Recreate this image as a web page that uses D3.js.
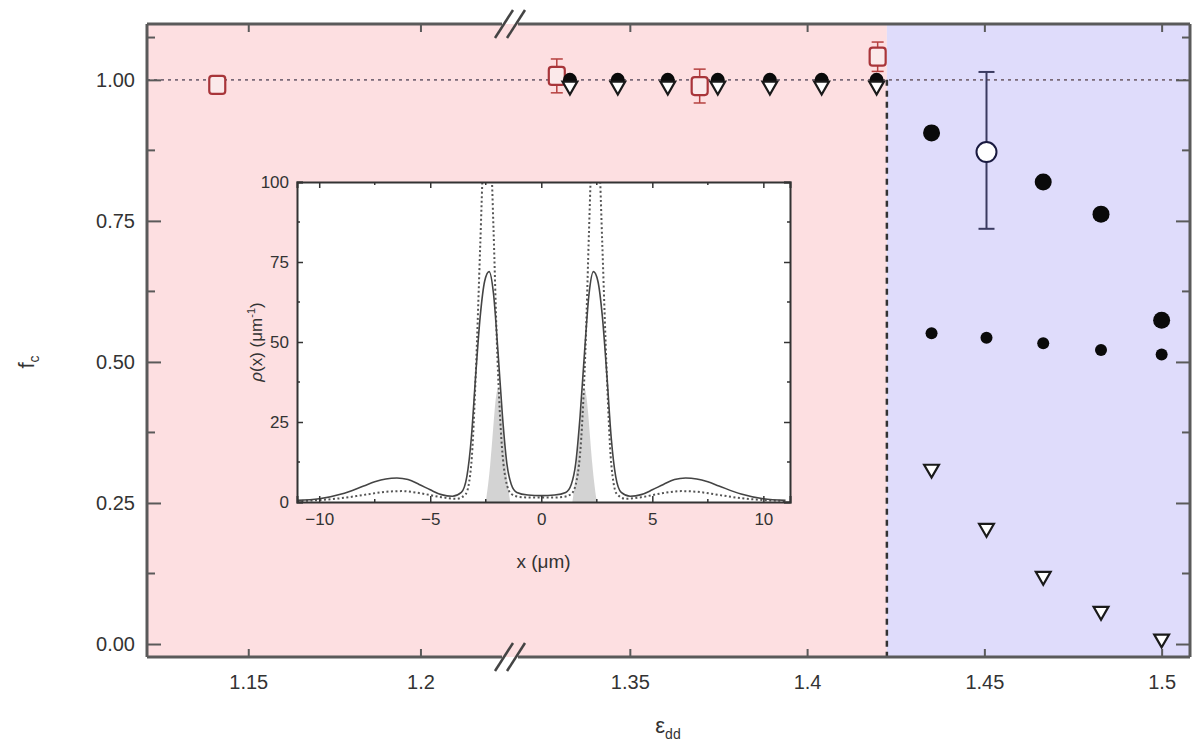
<!DOCTYPE html>
<html><head><meta charset="utf-8">
<script src="https://cdn.jsdelivr.net/npm/d3@7"></script>
<style>body{margin:0;background:#fff;} text{font-family:"Liberation Sans",Arial,sans-serif;fill:#333;}</style>
</head><body>
<svg id="c" width="1196" height="750"></svg>
<script>
// ---------- data ----------
const xTicksLeft = [1.15, 1.2];
const xTicksRight = [1.35, 1.4, 1.45, 1.5];
const yTicks = [0, 0.25, 0.5, 0.75, 1.0];
const transitionEps = 1.4225;

const bigFilledEps = [1.3331, 1.3466, 1.3607, 1.3748, 1.3895, 1.4041, 1.4196, 1.4351, 1.4666, 1.4829, 1.5];
const bigFilledF   = [1.0, 1.0, 1.0, 1.0, 1.0, 1.0, 1.0, 0.906, 0.819, 0.762, 0.574];

const smallFilledEps = [1.4351, 1.4506, 1.4666, 1.4829, 1.5];
const smallFilledF   = [0.551, 0.543, 0.533, 0.521, 0.513];

const triangleEps = [1.3331, 1.3466, 1.3607, 1.3748, 1.3895, 1.4041, 1.4196, 1.4351, 1.4506, 1.4666, 1.4829, 1.5];
const triangleF   = [0.991, 0.991, 0.991, 0.991, 0.991, 0.991, 0.991, 0.312, 0.207, 0.122, 0.060, 0.011];

const openCircleEps = [1.4506];
const openCircleF   = [0.872];
const openCircleLo  = [0.736];
const openCircleHi  = [1.014];

const squareEps = [1.141, 1.3294, 1.3697, 1.4199];
const squareF   = [0.991, 1.007, 0.989, 1.041];
const squareErr = [0.0, 0.030, 0.030, 0.026];

// inset
const insetXTicks = [-10, -5, 0, 5, 10];
const insetYTicks = [0, 25, 50, 75, 100];
const solidX = [-11, -10, -9, -8, -7.5, -7, -6.5, -6, -5.5, -5, -4.5, -4, -3.6, -3.35, -3.15, -2.95, -2.75, -2.55, -2.35, -2.15, -1.95, -1.75, -1.55, -1.35, -1.1, -0.6, 0,
                0.6, 1.1, 1.35, 1.55, 1.75, 1.95, 2.15, 2.35, 2.55, 2.75, 2.95, 3.15, 3.35, 3.6, 4, 4.5, 5, 5.5, 6, 6.5, 7, 7.5, 8, 9, 10, 11];
const solidY = [0.5, 1, 2.5, 5, 6.3, 7.2, 7.5, 7, 5.5, 3.8, 2.3, 1.8, 3, 8, 20, 40, 58, 69, 72, 65, 47, 27, 12, 5.5, 3, 2.2, 2,
                2.2, 3, 5.5, 12, 27, 47, 65, 72, 69, 58, 40, 20, 8, 3, 1.8, 2.3, 3.8, 5.5, 7, 7.5, 7.2, 6.3, 5, 2.5, 1, 0.5];
const dotX = [-11, -10, -9, -8, -7, -6.3, -5.5, -4.5, -3.8, -3.4, -3.15, -2.95, -2.75, -2.6, -2.45, -2.3, -2.15, -2.0, -1.8, -1.6, -1.35, -1.0, -0.5, 0,
              0.5, 1.0, 1.35, 1.6, 1.8, 2.0, 2.15, 2.3, 2.45, 2.6, 2.75, 2.95, 3.15, 3.4, 3.8, 4.5, 5.5, 6.3, 7, 8, 9, 10, 11];
const dotY = [0.3, 0.6, 1.2, 2.2, 3.2, 3.4, 2.8, 1.5, 1.0, 2.5, 12, 40, 80, 110, 125, 115, 85, 50, 20, 7, 2.5, 1.6, 1.4, 1.4,
              1.4, 1.6, 2.5, 7, 20, 50, 85, 115, 125, 110, 80, 40, 12, 2.5, 1.0, 1.5, 2.8, 3.4, 3.2, 2.2, 1.2, 0.6, 0.3];
const grayX = [-2.5, -2.3, -2.1, -1.95, -1.8, -1.6, -1.4, 1.4, 1.6, 1.8, 1.95, 2.1, 2.3, 2.5];
const grayY = [0, 10, 30, 38, 30, 10, 0, 0, 10, 30, 38, 30, 10, 0];

// ---------- layout ----------
const svg = d3.select("#c");
const L = 147, R = 1190, T = 24, B = 657, BRK = 510;
const axisColor = "#5a5a5a";
const x1 = d3.scaleLinear().domain([1.1206, 1.226]).range([L, BRK]);
const x2 = d3.scaleLinear().domain([1.3162, 1.508]).range([BRK, R]);
const xPos = v => v < 1.27 ? x1(v) : x2(v);
const y = d3.scaleLinear().domain([-0.023, 1.099]).range([B, T]);

// backgrounds
const xt = x2(transitionEps);
svg.append("rect").attr("x", L).attr("y", T).attr("width", xt - L).attr("height", B - T).attr("fill", "#fddfe1");
svg.append("rect").attr("x", xt).attr("y", T).attr("width", R - xt).attr("height", B - T).attr("fill", "#dfdcfb");

// dashed line at 1.0
svg.append("line").attr("x1", L).attr("x2", R).attr("y1", y(1)).attr("y2", y(1))
  .attr("stroke", "#7a6a78").attr("stroke-width", 1.6).attr("stroke-dasharray", "3,4");
// vertical dashed transition line
svg.append("line").attr("x1", xt).attr("x2", xt).attr("y1", y(1)).attr("y2", B)
  .attr("stroke", "#333").attr("stroke-width", 2.5).attr("stroke-dasharray", "6,5");

// ---------- inset ----------
const IL = 297, IR = 790, IT = 182, IB = 502;
const ix = d3.scaleLinear().domain([-11, 11.2]).range([IL, IR]);
const iy = d3.scaleLinear().domain([0, 100]).range([IB, IT]);
const inset = svg.append("g");
inset.append("rect").attr("x", IL).attr("y", IT).attr("width", IR - IL).attr("height", IB - IT).attr("fill", "#fff");
const clip = svg.append("clipPath").attr("id", "ic");
clip.append("rect").attr("x", IL).attr("y", IT).attr("width", IR - IL).attr("height", IB - IT);
const ig = inset.append("g").attr("clip-path", "url(#ic)");
const grayPts = grayX.map((d, i) => [d, grayY[i]]);
ig.append("path").datum(grayPts.slice(0, 7)).attr("fill", "#c8c8c8").attr("opacity", 0.8)
  .attr("d", d3.area().x(d => ix(d[0])).y0(iy(0)).y1(d => iy(d[1])).curve(d3.curveBasis));
ig.append("path").datum(grayPts.slice(7)).attr("fill", "#c8c8c8").attr("opacity", 0.8)
  .attr("d", d3.area().x(d => ix(d[0])).y0(iy(0)).y1(d => iy(d[1])).curve(d3.curveBasis));
ig.append("path").datum(dotX.map((d, i) => [d, dotY[i]])).attr("fill", "none")
  .attr("stroke", "#555").attr("stroke-width", 2).attr("stroke-dasharray", "2,2.5")
  .attr("d", d3.line().x(d => ix(d[0])).y(d => iy(d[1])).curve(d3.curveMonotoneX));
ig.append("path").datum(solidX.map((d, i) => [d, solidY[i]])).attr("fill", "none")
  .attr("stroke", "#444").attr("stroke-width", 1.6)
  .attr("d", d3.line().x(d => ix(d[0])).y(d => iy(d[1])).curve(d3.curveMonotoneX));

// inset axes
const iax = inset.append("g").attr("transform", `translate(0,${IB})`)
  .call(d3.axisBottom(ix).tickValues(insetXTicks).tickSize(-6).tickPadding(11).tickFormat(d3.format("d")));
const iaxT = inset.append("g").attr("transform", `translate(0,${IT})`)
  .call(d3.axisTop(ix).tickValues(insetXTicks).tickSize(-6).tickFormat(""));
const iay = inset.append("g").attr("transform", `translate(${IL},0)`)
  .call(d3.axisLeft(iy).tickValues(insetYTicks).tickSize(-6).tickPadding(8));
const iayR = inset.append("g").attr("transform", `translate(${IR},0)`)
  .call(d3.axisRight(iy).tickValues(insetYTicks).tickSize(-6).tickFormat(""));
// minor ticks
const insetXMinor = [-7.5, -2.5, 2.5, 7.5];
const insetYMinor = [12.5, 37.5, 62.5, 87.5];
[[IB, -3], [IT, 3]].forEach(([yy, s]) => inset.append("g").selectAll("line").data(insetXMinor).join("line")
  .attr("x1", d => ix(d)).attr("x2", d => ix(d)).attr("y1", yy).attr("y2", yy + s).attr("stroke", "#333").attr("stroke-width", 1.5));
[[IL, 3], [IR, -3]].forEach(([xx, s]) => inset.append("g").selectAll("line").data(insetYMinor).join("line")
  .attr("y1", d => iy(d)).attr("y2", d => iy(d)).attr("x1", xx).attr("x2", xx + s).attr("stroke", "#333").attr("stroke-width", 1.5));
[iax, iaxT, iay, iayR].forEach(g => {
  g.select(".domain").attr("stroke", "#333").attr("stroke-width", 2);
  g.selectAll(".tick line").attr("stroke", "#333").attr("stroke-width", 1.5);
  g.selectAll("text").style("font-size", "17px").attr("fill", "#333");
});
inset.append("text").attr("x", (IL + IR) / 2).attr("y", 568).attr("text-anchor", "middle").style("font-size", "19px").text("x (μm)");
inset.append("text").attr("transform", `translate(262,${(IT + IB) / 2}) rotate(-90)`).attr("text-anchor", "middle")
  .style("font-size", "17px").html('<tspan font-style="italic">ρ</tspan>(x) (μm<tspan dy="-7" font-size="11px">-1</tspan><tspan dy="7">)</tspan>');

// ---------- main markers ----------
const gm = svg.append("g");
// red squares with error bars
squareEps.forEach((e, i) => {
  const cx = xPos(e), cy = y(squareF[i]);
  if (squareErr[i] > 0) {
    const yt = y(squareF[i] + squareErr[i]), yb = y(squareF[i] - squareErr[i]);
    gm.append("line").attr("x1", cx).attr("x2", cx).attr("y1", yt).attr("y2", yb).attr("stroke", "#b5403f").attr("stroke-width", 1.5);
    [yt, yb].forEach(yy => gm.append("line").attr("x1", cx - 6).attr("x2", cx + 6).attr("y1", yy).attr("y2", yy).attr("stroke", "#b5403f").attr("stroke-width", 1.5));
  }
  gm.append("rect").attr("x", cx - 8).attr("y", cy - 9).attr("width", 16).attr("height", 18).attr("rx", 3)
    .attr("fill", "#fbe9ea").attr("stroke", "#a8353a").attr("stroke-width", 2.2);
});
// open circle error bar
openCircleEps.forEach((e, i) => {
  const cx = xPos(e);
  const yt = y(openCircleHi[i]), yb = y(openCircleLo[i]);
  gm.append("line").attr("x1", cx).attr("x2", cx).attr("y1", yt).attr("y2", yb).attr("stroke", "#3a3a60").attr("stroke-width", 2);
  [yt, yb].forEach(yy => gm.append("line").attr("x1", cx - 8).attr("x2", cx + 8).attr("y1", yy).attr("y2", yy).attr("stroke", "#3a3a60").attr("stroke-width", 2));
});
// big filled circles
gm.selectAll("circle.big").data(bigFilledEps.map((e, i) => [e, bigFilledF[i]])).join("circle")
  .attr("cx", d => xPos(d[0])).attr("cy", d => y(d[1])).attr("r", d => d[1] > 0.99 ? 7 : 8.5).attr("fill", "#0a0a0a");
// small filled circles
gm.selectAll("circle.small").data(smallFilledEps.map((e, i) => [e, smallFilledF[i]])).join("circle")
  .attr("cx", d => xPos(d[0])).attr("cy", d => y(d[1])).attr("r", 6).attr("fill", "#0a0a0a");
// open triangles (down)
const tri = d3.symbol().type(d3.symbolTriangle).size(95);
gm.selectAll("path.tri").data(triangleEps.map((e, i) => [e, triangleF[i]])).join("path")
  .attr("d", tri).attr("transform", d => `translate(${xPos(d[0])},${y(d[1]) + 1}) rotate(180)`)
  .attr("fill", "#fff").attr("stroke", "#1a1a1a").attr("stroke-width", 2.2);
// open circle
gm.selectAll("circle.open").data(openCircleEps.map((e, i) => [e, openCircleF[i]])).join("circle")
  .attr("cx", d => xPos(d[0])).attr("cy", d => y(d[1])).attr("r", 10).attr("fill", "#fff").attr("stroke", "#1a1a40").attr("stroke-width", 2);

// ---------- main axes ----------
const ax = svg.append("g");
function styleAxis(g) {
  g.select(".domain").remove();
  g.selectAll(".tick line").attr("stroke", axisColor).attr("stroke-width", 2);
  g.selectAll("text").style("font-size", "20px").attr("fill", "#333");
}
styleAxis(ax.append("g").attr("transform", `translate(0,${B})`).call(d3.axisBottom(x1).tickValues(xTicksLeft).tickSize(-8).tickPadding(18).tickFormat(d3.format("~g"))));
styleAxis(ax.append("g").attr("transform", `translate(0,${B})`).call(d3.axisBottom(x2).tickValues(xTicksRight).tickSize(-8).tickPadding(18).tickFormat(d3.format("~g"))));
styleAxis(ax.append("g").attr("transform", `translate(0,${T})`).call(d3.axisTop(x1).tickValues(xTicksLeft).tickSize(-8).tickFormat("")));
styleAxis(ax.append("g").attr("transform", `translate(0,${T})`).call(d3.axisTop(x2).tickValues(xTicksRight).tickSize(-8).tickFormat("")));
styleAxis(ax.append("g").attr("transform", `translate(${L},0)`).call(d3.axisLeft(y).tickValues(yTicks).tickSize(-14).tickPadding(12).tickFormat(d3.format(".2f"))));
styleAxis(ax.append("g").attr("transform", `translate(${R},0)`).call(d3.axisRight(y).tickValues(yTicks).tickSize(-14).tickFormat("")));
const yMinor = [0.125, 0.375, 0.625, 0.875, 1.075];
[[L, 8], [R, -8]].forEach(([xx, s]) => ax.append("g").selectAll("line").data(yMinor).join("line")
  .attr("x1", xx).attr("x2", xx + s).attr("y1", d => y(d)).attr("y2", d => y(d)).attr("stroke", axisColor).attr("stroke-width", 2));
// frame with break gaps
const frame = ax.append("g").attr("stroke", axisColor).attr("stroke-width", 3).attr("fill", "none");
frame.append("line").attr("x1", L).attr("x2", L).attr("y1", T).attr("y2", B);
frame.append("line").attr("x1", R).attr("x2", R).attr("y1", T).attr("y2", B);
[T, B].forEach(yy => {
  frame.append("line").attr("x1", L).attr("x2", BRK - 8).attr("y1", yy).attr("y2", yy);
  frame.append("line").attr("x1", BRK + 8).attr("x2", R).attr("y1", yy).attr("y2", yy);
  [-6, 6].forEach(dx => frame.append("line").attr("x1", BRK + dx - 9).attr("x2", BRK + dx + 9)
    .attr("y1", yy + 14).attr("y2", yy - 14).attr("stroke", "#444").attr("stroke-width", 2.5));
});

// axis titles
svg.append("text").attr("transform", "translate(34,362) rotate(-90)").attr("text-anchor", "middle")
  .style("font-size", "22px").html('f<tspan dy="5" font-size="14px">c</tspan>');
svg.append("text").attr("x", 668).attr("y", 733).attr("text-anchor", "middle")
  .style("font-size", "22px").html('ε<tspan dy="6" font-size="14px">dd</tspan>');
</script>
</body></html>
